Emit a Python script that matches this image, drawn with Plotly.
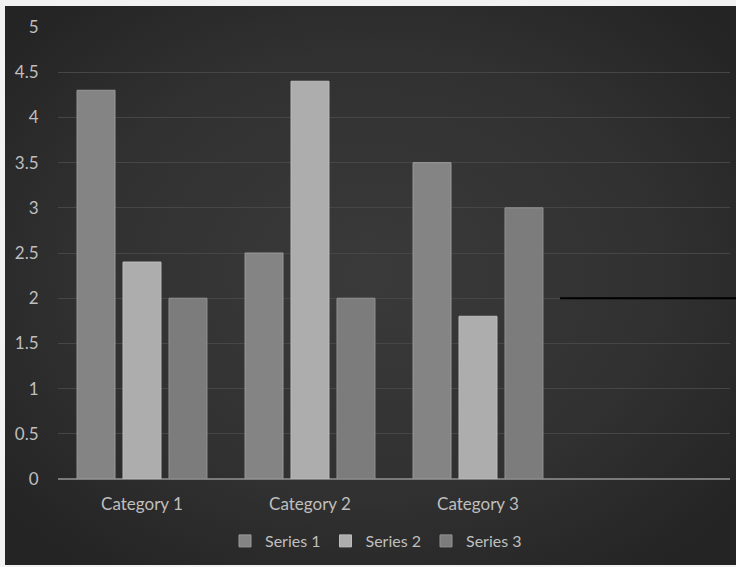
import base64
import plotly.graph_objects as go

categories = ["Category 1", "Category 2", "Category 3", " "]
series_names = ["Series 1", "Series 2", "Series 3"]
series_1 = [4.3, 2.5, 3.5, None]
series_2 = [2.4, 4.4, 1.8, None]
series_3 = [2.0, 2.0, 3.0, None]
y_ticks = [0, 0.5, 1, 1.5, 2, 2.5, 3, 3.5, 4, 4.5, 5]
y_tick_text = ["0", "0.5", "1", "1.5", "2", "2.5", "3", "3.5", "4", "4.5", "5"]
marker_line_value = 2

fills = ["#848484", "#adadad", "#7c7c7c"]
edges = ["#9a9a9a", "#bdbdbd", "#939393"]

# Dark backdrop with a soft radial glow, drawn as an SVG image
svg = """<svg xmlns='http://www.w3.org/2000/svg' width='731' height='559' viewBox='0 0 731 559' preserveAspectRatio='none'>
<defs>
<radialGradient id='g' cx='0.5' cy='0.48' r='0.65'>
<stop offset='0' stop-color='#3a3a3a'/>
<stop offset='0.6' stop-color='#313131'/>
<stop offset='1' stop-color='#242424'/>
</radialGradient>
</defs>
<rect width='731' height='559' fill='url(#g)'/>
</svg>"""
bg_uri = "data:image/svg+xml;base64," + base64.b64encode(svg.encode()).decode()

fig = go.Figure()
for name, vals, fc, ec in zip(series_names, [series_1, series_2, series_3], fills, edges):
    fig.add_trace(go.Bar(
        x=categories, y=vals, name=name,
        marker=dict(color=fc, line=dict(color=ec, width=1)),
    ))

W, H = 736, 567
L, R, T, B = 58, 6, 27, 88
pw, ph = W - L - R, H - T - B

fig.add_layout_image(dict(
    source=bg_uri, xref="paper", yref="paper",
    x=(5 - L) / pw, y=1 + (T - 6) / ph,
    sizex=731 / pw, sizey=559 / ph,
    xanchor="left", yanchor="top", sizing="stretch", layer="below",
))

fig.add_shape(type="line", xref="paper", yref="y",
              x0=(560 - L) / pw, x1=(W - L) / pw,
              y0=marker_line_value, y1=marker_line_value,
              line=dict(color="#000000", width=2))

fig.update_layout(
    width=W, height=H,
    margin=dict(l=L, r=R, t=T, b=B),
    paper_bgcolor="#f2f2f2",
    plot_bgcolor="rgba(0,0,0,0)",
    barmode="group",
    bargap=0.179,
    bargroupgap=0.174,
    font=dict(family="Lato, Open Sans, sans-serif", size=17, color="#bfbfbf"),
    showlegend=True,
    legend=dict(orientation="h", x=(376 - L) / pw, xanchor="center",
                y=(479 - 541) / ph, yanchor="middle",
                font=dict(size=16, color="#bfbfbf"),
                bgcolor="rgba(0,0,0,0)", itemwidth=30, tracegroupgap=0),
    xaxis=dict(
        range=[-0.5, 3.5], showgrid=False, zeroline=False,
        showline=False, ticks="outside", ticklen=10,
        tickcolor="rgba(0,0,0,0)", fixedrange=True,
    ),
    yaxis=dict(
        range=[0, 5], tickvals=y_ticks, ticktext=y_tick_text,
        showgrid=True, gridcolor="#464646", gridwidth=1,
        zeroline=True, zerolinecolor="#7a7a7a", zerolinewidth=1.5,
        showline=False, ticks="outside", ticklen=15,
        tickcolor="rgba(0,0,0,0)", fixedrange=True,
        tickfont=dict(size=17),
    ),
)

fig.write_html("out.html")
